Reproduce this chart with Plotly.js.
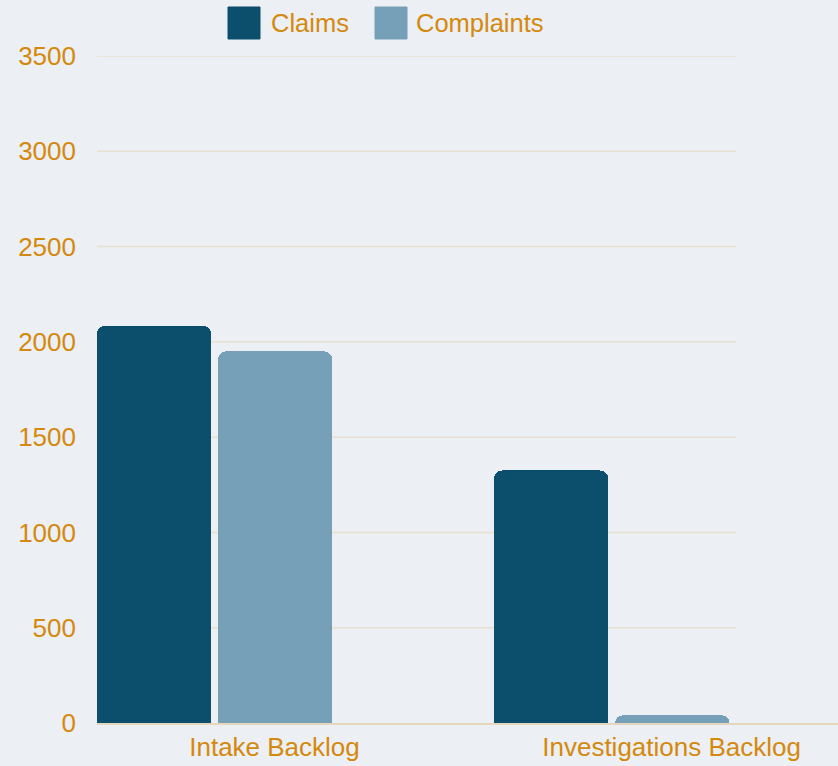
<!DOCTYPE html>
<html>
<head>
<meta charset="utf-8">
<script src="https://cdn.plot.ly/plotly-3.0.1.min.js"></script>
<style>
html,body{margin:0;padding:0;background:#ECEFF3;}
#chart{width:838px;height:766px;}
</style>
</head>
<body>
<div id="chart"></div>
<script>
// ---- data ----
const categories = ["Intake Backlog", "Investigations Backlog"];
const seriesNames = ["Claims", "Complaints"];
const claimsValues = [2085, 1325];
const complaintsValues = [1950, 40];
const yTickValues = [0, 500, 1000, 1500, 2000, 2500, 3000, 3500];

// ---- styles ----
const W = 838, H = 766;
const M = {l: 97, r: 0, t: 56, b: 43};
const colors = ["#0B4F6C", "#76A0B8"];
const textColor = "#D4890D";
const font = {family: "Liberation Sans, Arial, sans-serif", size: 26, color: textColor};
const legendFont = {family: "Liberation Sans, Arial, sans-serif", size: 25.5, color: textColor};
const plotW = W - M.l - M.r, plotH = H - M.t - M.b;
const px2x = p => (p - M.l) / plotW;
const px2y = p => (H - M.b - p) / plotH;

const traces = [
  {type: "bar", name: seriesNames[0], x: categories, y: claimsValues,
   marker: {color: colors[0], cornerradius: 8}, width: 0.287, offset: -0.447,
   showlegend: false, hoverinfo: "none"},
  {type: "bar", name: seriesNames[1], x: categories, y: complaintsValues,
   marker: {color: colors[1], cornerradius: 8}, width: 0.287, offset: -0.142,
   showlegend: false, hoverinfo: "none"}
];

const shapes = [];
yTickValues.forEach(v => {
  if (v === 0) return;
  shapes.push({type: "line", xref: "paper", yref: "y", x0: 0, x1: px2x(736), y0: v, y1: v,
    line: {color: "#E8E0CE", width: 1.5}, layer: "below"});
});

// custom legend (large squares)
const legendItems = [
  {sq: 228, tx: 269},
  {sq: 375, tx: 414}
];
const annotations = [];
legendItems.forEach((it, i) => {
  shapes.push({type: "rect", xref: "paper", yref: "paper",
    x0: px2x(it.sq), x1: px2x(it.sq + 32), y0: px2y(39), y1: px2y(7),
    fillcolor: colors[i], line: {color: colors[i], width: 1}});
  annotations.push({xref: "paper", yref: "paper", x: px2x(it.tx), y: px2y(23),
    xanchor: "left", yanchor: "middle", showarrow: false, text: seriesNames[i], font: legendFont});
});

const layout = {
  width: W, height: H,
  margin: M,
  paper_bgcolor: "#ECEFF3", plot_bgcolor: "#ECEFF3",
  font: font,
  showlegend: false,
  bargap: 0,
  xaxis: {type: "category", range: [-0.447, 1.419], showgrid: false, zeroline: false,
    showline: true, linecolor: "#E6D7BC", linewidth: 2, ticks: "", tickfont: font,
    fixedrange: true},
  yaxis: {range: [0, 3500], tickvals: yTickValues, showgrid: false, zeroline: false,
    showline: false, ticks: "", tickfont: font, ticklabelstandoff: 20, fixedrange: true},
  shapes: shapes,
  annotations: annotations
};

Plotly.newPlot("chart", traces, layout, {displayModeBar: false, staticPlot: true});
</script>
</body>
</html>
